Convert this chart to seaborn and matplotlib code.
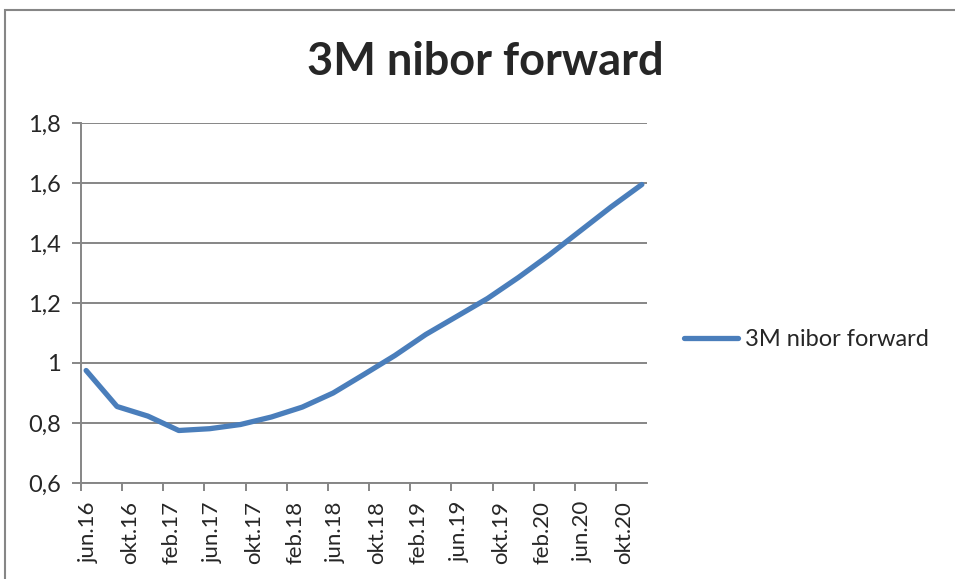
import matplotlib
matplotlib.use("Agg")
import matplotlib.pyplot as plt
import seaborn as sns
import pandas as pd
from matplotlib.patches import Rectangle

# ---- data ----
dates = ["2016-06", "2016-09", "2016-12", "2017-03", "2017-06", "2017-09", "2017-12",
         "2018-03", "2018-06", "2018-09", "2018-12", "2019-03", "2019-06", "2019-09",
         "2019-12", "2020-03", "2020-06", "2020-09", "2020-12"]
values = [0.975, 0.855, 0.823, 0.775, 0.781, 0.795, 0.82,
          0.853, 0.90, 0.962, 1.025, 1.095, 1.155, 1.215,
          1.285, 1.36, 1.44, 1.52, 1.595]
tick_labels = ["jun.16", "okt.16", "feb.17", "jun.17", "okt.17", "feb.18", "jun.18",
               "okt.18", "feb.19", "jun.19", "okt.19", "feb.20", "jun.20", "okt.20"]
y_ticks = [0.6, 0.8, 1.0, 1.2, 1.4, 1.6, 1.8]
y_tick_labels = ["0,6", "0,8", "1", "1,2", "1,4", "1,6", "1,8"]
series_name = "3M nibor forward"
title = "3M nibor forward"

# month index on a monthly date axis (centre of each month slot)
per = pd.PeriodIndex(dates, freq="M")
start = per[0]
month_idx = [(p - start).n + 0.5 for p in per]
df = pd.DataFrame({"x": month_idx, "y": values, "series": series_name})
n_months = (pd.Period("2020-12", freq="M") - start).n + 1

sns.set_theme(style="white")
plt.rcParams["font.family"] = ["Lato", "DejaVu Sans"]

fig = plt.figure(figsize=(9.55, 5.79), dpi=100)
ax = fig.add_axes([81 / 955, 1 - 483 / 579, (647 - 81) / 955, (483 - 123) / 579])

grey = "#868686"
blue = "#4A7EBB"

sns.lineplot(data=df, x="x", y="y", hue="series", palette=[blue], linewidth=3.8,
             ax=ax, solid_capstyle="round", solid_joinstyle="round", zorder=3)

ax.set_xlim(0, n_months)
ax.set_ylim(0.6, 1.8)
ax.set_yticks(y_ticks)
ax.set_yticklabels(y_tick_labels, fontsize=17)
ax.yaxis.grid(True, color=grey, linewidth=1.4)
ax.set_axisbelow(True)

major = list(range(0, len(tick_labels) * 4, 4))
ax.set_xticks(major)
ax.set_xticklabels([])
ax.set_xticks([m + 0.8 for m in major], minor=True)
ax.set_xticklabels(tick_labels, minor=True, rotation=90, fontsize=16)
ax.tick_params(axis="x", which="minor", length=0, pad=13)
ax.tick_params(axis="x", which="major", length=5.5, width=1.4, color=grey, direction="out", bottom=True)
ax.tick_params(axis="y", length=6.5, width=1.4, color=grey, direction="out", left=True, pad=8)

for s in ["top", "right"]:
    ax.spines[s].set_visible(False)
for s in ["left", "bottom"]:
    ax.spines[s].set_color(grey)
    ax.spines[s].set_linewidth(1.4)

ax.set_xlabel("")
ax.set_ylabel("")

leg = ax.legend(loc="center left", bbox_to_anchor=(684 / 955, 1 - 340 / 579),
                bbox_transform=fig.transFigure, frameon=False, fontsize=17,
                handlelength=2.3, handletextpad=0.3, borderpad=0, borderaxespad=0)
for line in leg.get_lines():
    line.set_linewidth(3.8)

fig.text(485 / 955, 1 - 62 / 579, title, ha="center", va="center",
         fontsize=32.5, fontweight="bold")

# chart border
fig.patches.append(Rectangle((5 / 955, -0.1), 1.1, 1 - 10 / 579 + 0.1,
                             transform=fig.transFigure, fill=False,
                             edgecolor=grey, linewidth=1.5))

fig.savefig("out.png", dpi=100)
